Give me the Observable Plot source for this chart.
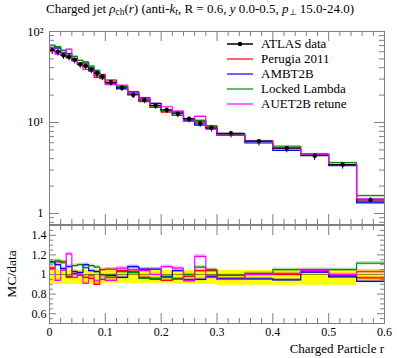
<!DOCTYPE html>
<html><head><meta charset="utf-8">
<script src="https://cdn.jsdelivr.net/npm/d3@7"></script>
<script src="https://cdn.jsdelivr.net/npm/@observablehq/plot@0.6"></script>
<style>
body{margin:0;background:#fff;}
#wrap{position:relative;width:397px;height:358px;font-family:"Liberation Serif",serif;color:#000;overflow:hidden;}
#title{position:absolute;left:0;width:400px;top:1px;text-align:center;font-size:13px;white-space:nowrap;}
#title sub{font-size:0.72em;vertical-align:-0.25em;line-height:0;}
.panel{position:absolute;left:0;}
#legend{position:absolute;left:227px;top:36px;font-size:13px;}
.lg{position:absolute;left:0;height:15px;white-space:nowrap;}
.lg svg{position:absolute;left:0;top:0;}
.lg span{position:absolute;left:34px;top:0px;line-height:15px;}
#xlabel{position:absolute;right:13px;top:341px;font-size:13px;line-height:15px;white-space:nowrap;}
#ylabel{position:absolute;left:12px;top:274px;font-size:13.5px;white-space:nowrap;transform:translate(-50%,-50%) rotate(-90deg);}
</style></head><body>
<div id="wrap">
 <div id="title">Charged jet <i>ρ</i><sub>ch</sub>(<i>r</i>) (anti-<i>k</i><sub><i>t</i></sub>, R = 0.6, <i>y</i> 0.0-0.5, <i>p</i><sub>⊥</sub> 15.0-24.0)</div>
 <div id="main" class="panel" style="top:0"></div>
 <div id="ratio" class="panel" style="top:224px"></div>
 <div id="legend"></div>
 <div id="xlabel">Charged Particle r</div>
 <div id="ylabel">MC/data</div>
</div>
<script>
// ---- data ----
const binEdges = [0,0.01,0.02,0.03,0.04,0.05,0.06,0.07,0.08,0.09,0.1,0.12,0.14,0.16,0.18,0.2,0.22,0.24,0.26,0.28,0.3,0.35,0.4,0.45,0.5,0.55,0.6];
const dataValues = [62.3,59.8,54.9,52.8,48.9,43.7,42.0,38.2,34.8,32.0,27.7,24.1,20.1,17.7,15.4,13.8,12.5,11.0,9.83,8.74,7.62,6.23,5.22,4.31,3.45,1.41];
const dataErrUp = [0.05,0.05,0.05,0.05,0.04,0.04,0.04,0.04,0.04,0.04,0.04,0.04,0.04,0.04,0.04,0.04,0.04,0.04,0.04,0.04,0.04,0.04,0.04,0.04,0.04,0.05];
const dataErrDown = [0.10,0.10,0.10,0.10,0.10,0.10,0.10,0.10,0.10,0.10,0.09,0.09,0.09,0.09,0.09,0.09,0.10,0.10,0.10,0.10,0.11,0.11,0.11,0.11,0.11,0.07];
const ratioPerugia = [1.06,1.13,1.13,0.98,1.01,0.99,0.97,0.96,0.90,1.05,1.055,1.04,1.03,0.97,0.95,0.94,0.955,0.98,1.04,1.04,0.955,1.0,1.0,1.03,0.99,0.965];
const ratioAMBT2B = [1.13,1.10,1.06,1.08,1.03,1.02,1.10,1.04,1.03,0.99,0.99,0.97,1.08,1.055,1.055,0.975,1.04,0.945,0.95,0.98,0.955,0.955,0.945,1.025,0.975,0.93];
const ratioLocked = [1.12,1.14,1.12,0.97,1.09,1.10,1.07,1.09,1.075,0.95,0.97,1.03,1.02,0.96,0.96,0.97,0.955,1.0,1.075,1.05,0.99,1.01,1.05,1.05,1.05,1.115];
const ratioAUET2B = [1.07,0.94,1.045,1.21,0.97,1.0,0.91,0.99,0.935,0.99,0.94,1.065,1.05,1.04,1.0,1.08,1.065,0.935,1.185,0.97,0.95,1.0,1.01,1.04,1.0,1.03];
const seriesNames = ["Perugia 2011","AMBT2B","Locked Lambda","AUET2B retune"];
const seriesColors = ["#ff0000","#0000ff","#008a00","#ff00ff"];
const seriesRatios = [ratioPerugia, ratioAMBT2B, ratioLocked, ratioAUET2B];
const mcBand = 0.015;
// ticks
const xMajorTicks = [0,0.1,0.2,0.3,0.4,0.5,0.6];
const xMinorTicks = [0.02,0.04,0.06,0.08,0.12,0.14,0.16,0.18,0.22,0.24,0.26,0.28,0.32,0.34,0.36,0.38,0.42,0.44,0.46,0.48,0.52,0.54,0.56,0.58];
const logMajorTicks = [1,10,100];
const logTickLabels = ["1","10\u00b9","10\u00b2"];
const logMinorTicks = [0.8,0.9,2,3,4,5,6,7,8,9,20,30,40,50,60,70,80,90];
const ratioMajorTicks = [0.6,0.8,1,1.2,1.4];
const ratioMinorTicks = [0.55,0.65,0.7,0.75,0.85,0.9,0.95,1.05,1.1,1.15,1.25,1.3,1.35,1.45];

// ---- build ----
const bins = dataValues.map((v,i)=>({lo:binEdges[i],hi:binEdges[i+1],c:(binEdges[i]+binEdges[i+1])/2,v,up:v*(1+dataErrUp[i]),dn:v*(1-dataErrDown[i]),rUp:1+dataErrUp[i],rDn:1-dataErrDown[i]}));
function steps(vals){const p=[];vals.forEach((v,i)=>{p.push({x:binEdges[i],y:v});p.push({x:binEdges[i+1],y:v});});return p;}
function bandRects(vals){return vals.map((v,i)=>({x1:binEdges[i],x2:binEdges[i+1],y1:v*(1-mcBand),y2:v*(1+mcBand)}));}

const frameColor = "#808080";
const W = 397, ML = 49, MR = 13;
const frameW = W-ML-MR;

function tickMarks(xMaj,xMin,yMaj,yMin,fh,xMajL,xMinL,yMajL,yMinL){
  const o={stroke:frameColor,strokeWidth:1};
  return [
    Plot.tickX(xMaj,{x:d=>d,...o,insetTop:fh-xMajL}),
    Plot.tickX(xMin,{x:d=>d,...o,insetTop:fh-xMinL}),
    Plot.tickX(xMaj,{x:d=>d,...o,insetBottom:fh-xMajL}),
    Plot.tickX(xMin,{x:d=>d,...o,insetBottom:fh-xMinL}),
    Plot.tickY(yMaj,{y:d=>d,...o,insetRight:frameW-yMajL}),
    Plot.tickY(yMin,{y:d=>d,...o,insetRight:frameW-yMinL}),
    Plot.tickY(yMaj,{y:d=>d,...o,insetLeft:frameW-yMajL}),
    Plot.tickY(yMin,{y:d=>d,...o,insetLeft:frameW-yMinL}),
  ];
}

// main panel
const mainH = 226, mainMT = 31, mainMB = 2;
const mainFH = mainH-mainMT-mainMB;
const mainMarks = [];
seriesRatios.forEach((r,k)=>{
  const vals = r.map((x,i)=>x*dataValues[i]);
  mainMarks.push(Plot.rect(bandRects(vals),{x1:"x1",x2:"x2",y1:"y1",y2:"y2",fill:seriesColors[k],fillOpacity:0.3}));
});
seriesRatios.forEach((r,k)=>{
  const vals = r.map((x,i)=>x*dataValues[i]);
  mainMarks.push(Plot.line(steps(vals),{x:"x",y:"y",stroke:seriesColors[k],strokeWidth:1.2}));
});
mainMarks.push(Plot.ruleX(bins,{x:"c",y1:"dn",y2:"up",stroke:"#000",strokeWidth:1}));
mainMarks.push(Plot.ruleY(bins,{y:"v",x1:"lo",x2:"hi",stroke:"#000",strokeWidth:1}));
mainMarks.push(Plot.dot(bins,{x:"c",y:"v",r:2.2,fill:"#000"}));
mainMarks.push(...tickMarks(xMajorTicks,xMinorTicks,logMajorTicks,logMinorTicks,mainFH,10,5,10,5));
mainMarks.push(Plot.frame({stroke:frameColor}));
mainMarks.push(Plot.axisY(logMajorTicks,{tickSize:0,tickPadding:6,tickFormat:d=>logTickLabels[logMajorTicks.indexOf(d)],fontSize:12.5}));

const mainPlot = Plot.plot({
  width:W,height:mainH,marginTop:mainMT,marginBottom:mainMB,marginLeft:ML,marginRight:MR,
  x:{domain:[0,0.6],axis:null},
  y:{type:"log",domain:[0.757,100],axis:null},
  style:{fontFamily:"Liberation Serif",fontSize:"12px",background:"transparent",overflow:"visible",color:"#000"},
  marks:mainMarks
});
document.getElementById("main").appendChild(mainPlot);

// ratio panel
const rH = 134, rMT = 1, rMB = 35;
const rFH = rH-rMT-rMB;
const rMarks = [];
rMarks.push(Plot.rect(bins,{x1:"lo",x2:"hi",y1:"rDn",y2:"rUp",fill:"#ffff00"}));
seriesRatios.forEach((r,k)=>{
  rMarks.push(Plot.rect(bandRects(r),{x1:"x1",x2:"x2",y1:"y1",y2:"y2",fill:seriesColors[k],fillOpacity:0.3}));
});
rMarks.push(Plot.line(steps(bins.map(()=>1)),{x:"x",y:"y",stroke:"#000",strokeOpacity:0.45,strokeWidth:1}));
seriesRatios.forEach((r,k)=>{
  rMarks.push(Plot.line(steps(r),{x:"x",y:"y",stroke:seriesColors[k],strokeWidth:1.2}));
});
rMarks.push(...tickMarks(xMajorTicks,xMinorTicks,ratioMajorTicks,ratioMinorTicks,rFH,10,5,7,4));
rMarks.push(Plot.frame({stroke:frameColor}));
rMarks.push(Plot.axisY(ratioMajorTicks,{tickSize:0,tickPadding:3,tickFormat:d=>String(d),fontSize:12}));
rMarks.push(Plot.axisX(xMajorTicks,{tickSize:0,tickPadding:4,tickFormat:d=>String(d),fontSize:12}));
const ratioPlot = Plot.plot({
  width:W,height:rH,marginTop:rMT,marginBottom:rMB,marginLeft:ML,marginRight:MR,
  x:{domain:[0,0.6],axis:null},
  y:{domain:[0.5,1.5],axis:null},
  style:{fontFamily:"Liberation Serif",fontSize:"12px",background:"transparent",overflow:"visible",color:"#000"},
  marks:rMarks
});
document.getElementById("ratio").appendChild(ratioPlot);

// legend
const legend = document.getElementById("legend");
const entries = [{name:"ATLAS data",color:"#000",dot:true}].concat(seriesNames.map((n,i)=>({name:n,color:seriesColors[i],dot:false})));
entries.forEach((e,i)=>{
  const d=document.createElement("div");d.className="lg";d.style.top=(i*15)+"px";
  d.innerHTML=`<svg width="28" height="15"><line x1="0" x2="26" y1="8" y2="8" stroke="${e.color}" stroke-width="${e.dot?1.5:1.2}"/>${e.dot?'<circle cx="13" cy="8" r="2.3" fill="#000"/>':''}</svg><span>${e.name}</span>`;
  legend.appendChild(d);
});
</script>
</body></html>
